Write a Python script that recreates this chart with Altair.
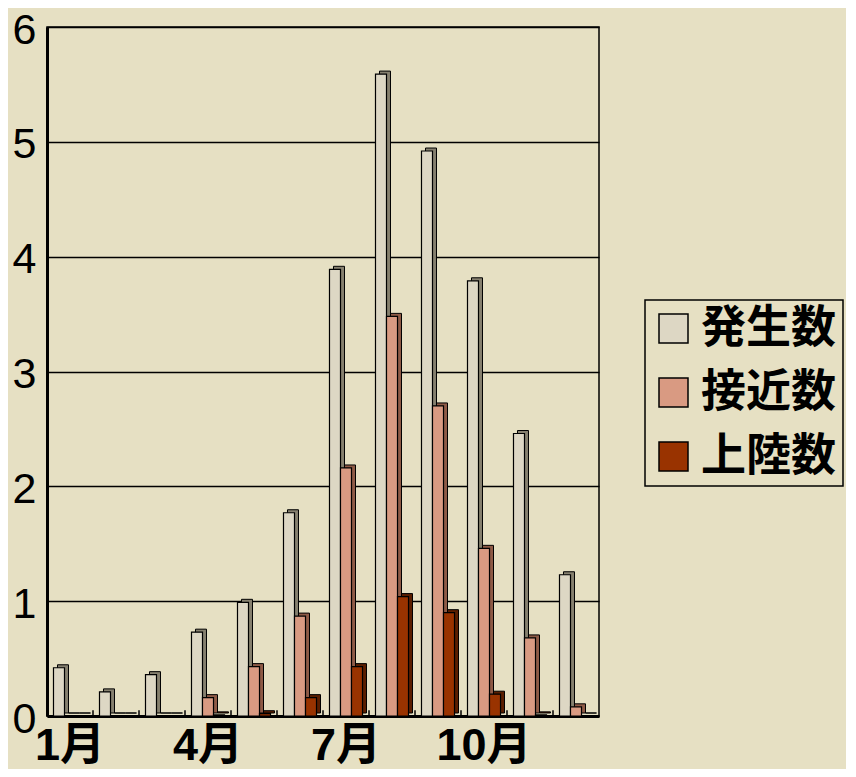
import altair as alt
import pandas as pd

months = ["1月", "2月", "3月", "4月", "5月", "6月", "7月", "8月", "9月", "10月", "11月", "12月"]
series = ["発生数", "接近数", "上陸数"]
hassei = [0.42, 0.21, 0.36, 0.73, 0.99, 1.77, 3.89, 5.59, 4.92, 3.79, 2.46, 1.23]
sekkin = [0.0, 0.0, 0.0, 0.16, 0.43, 0.87, 2.16, 3.48, 2.70, 1.46, 0.68, 0.08]
joriku = [0.0, 0.0, 0.0, 0.01, 0.02, 0.16, 0.43, 1.04, 0.90, 0.19, 0.01, 0.0]
tick_labels = ["1月", "4月", "7月", "10月"]

front_colors = ["#DDD7C4", "#D99A82", "#993300"]
side_colors = ["#86806F", "#8E5A46", "#5A1E00"]

rows = []
for s, vals in zip(series, [hassei, sekkin, joriku]):
    for m, v in zip(months, vals):
        rows.append({"month": m, "series": s, "value": v})
df = pd.DataFrame(rows)

FONT = "Liberation Sans, Noto Sans CJK JP"

xenc = alt.X(
    "month:N", sort=months, title=None,
    scale=alt.Scale(paddingInner=0, paddingOuter=0),
    axis=alt.Axis(values=tick_labels, labelAngle=0, ticks=False, domainWidth=3,
                  domainColor="black", labelFontSize=45, labelFontWeight="bold",
                  labelColor="black", labelPadding=7, labelFont=FONT),
)
yenc = alt.Y(
    "value:Q", title=None,
    scale=alt.Scale(domain=[0, 6], nice=False),
    axis=alt.Axis(values=[0, 1, 2, 3, 4, 5, 6], format="d", ticks=False, domainWidth=3,
                  domainColor="black", gridColor="black", gridWidth=1.5, gridOpacity=1,
                  labelFontSize=43, labelColor="black", labelPadding=11, labelFont=FONT,
                  labelOffset=3),
)

base = alt.Chart(df)

shadow = base.mark_bar(yOffset=-3, stroke="black", strokeWidth=1).encode(
    x=xenc,
    xOffset=alt.XOffset("series:N", sort=series,
                        scale=alt.Scale(range=[4, 50], paddingInner=0, paddingOuter=0.59)),
    y=yenc,
    color=alt.Color("series:N", sort=series,
                    scale=alt.Scale(domain=series, range=side_colors), legend=None),
)

front = base.mark_bar(stroke="black", strokeWidth=1.2).encode(
    x=xenc,
    xOffset=alt.XOffset("series:N", sort=series,
                        scale=alt.Scale(paddingInner=0, paddingOuter=0.59)),
    y=yenc,
    color=alt.Color(
        "series:N", sort=series,
        scale=alt.Scale(domain=series, range=front_colors),
        legend=alt.Legend(
            title=None, orient="none", legendX=598, legendY=273,
            symbolType="square", symbolSize=841, symbolStrokeColor="black",
            symbolStrokeWidth=1.5, symbolOpacity=1,
            labelFontSize=45, labelFontWeight="bold", labelColor="black",
            labelFont="Noto Sans CJK JP", labelOffset=5, rowPadding=18,
            padding=6, strokeColor="black",
            labelLimit=400,
        ),
    ),
)

ticks = alt.Chart(pd.DataFrame({"month": months[1:]})).mark_rule(
    color="black", strokeWidth=1.5
).encode(
    x=alt.X("month:N", sort=months, bandPosition=0),
    y=alt.datum(0),
    y2=alt.datum(0.05),
)

chart = (
    alt.layer(shadow, front, ticks)
    .resolve_scale(xOffset="independent", color="independent")
    .properties(width=552, height=689,
                autosize=alt.AutoSizeParams(type="none"),
                padding={"left": 39, "top": 19, "right": 247, "bottom": 53})
    .configure(background="#E6E0C3")
    .configure_view(stroke="black", strokeWidth=1.5)
    .configure_legend(strokeWidth=1.5)
)

chart.save("out.html", embed_options={"renderer": "svg", "actions": False})
